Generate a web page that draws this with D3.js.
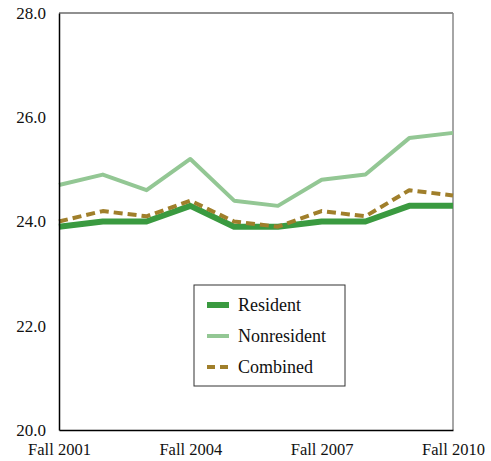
<!DOCTYPE html>
<html>
<head>
<meta charset="utf-8">
<script src="https://cdn.jsdelivr.net/npm/d3@7"></script>
<style>
body { margin: 0; background: #fff; }
text { font-family: "Liberation Serif", "DejaVu Serif", serif; }
</style>
</head>
<body>
<svg width="491" height="461"></svg>
<script>
var terms = ["Fall 2001","Fall 2002","Fall 2003","Fall 2004","Fall 2005","Fall 2006","Fall 2007","Fall 2008","Fall 2009","Fall 2010"];
var tickTerms = ["Fall 2001","Fall 2004","Fall 2007","Fall 2010"];
var yTicks = [20, 22, 24, 26, 28];
var resident = [23.9, 24.0, 24.0, 24.3, 23.9, 23.9, 24.0, 24.0, 24.3, 24.3];
var nonresident = [24.7, 24.9, 24.6, 25.2, 24.4, 24.3, 24.8, 24.9, 25.6, 25.7];
var combined = [24.0, 24.2, 24.1, 24.4, 24.0, 23.9, 24.2, 24.1, 24.6, 24.5];

var series = [
    {name: "Resident", values: resident, color: "#3a9a40", width: 6, dash: null},
    {name: "Nonresident", values: nonresident, color: "#93c794", width: 4, dash: null},
    {name: "Combined", values: combined, color: "#a07f2b", width: 4, dash: "9,5"}
];

var svg = d3.select("svg"),
    plotLeft = 59, plotRight = 453, plotTop = 13, plotBottom = 430;

var xScale = d3.scalePoint().domain(terms).range([plotLeft, plotRight]),
    yScale = d3.scaleLinear().domain([20, 28]).range([plotBottom, plotTop]);

// frame
svg.append("line").attr("x1", plotLeft).attr("x2", plotRight).attr("y1", plotTop).attr("y2", plotTop)
    .attr("stroke", "#222").attr("stroke-width", 1.2);
svg.append("line").attr("x1", plotRight).attr("x2", plotRight).attr("y1", plotTop).attr("y2", plotBottom)
    .attr("stroke", "#888").attr("stroke-width", 1.5);

var line = d3.line()
    .x(function(d, i){ return xScale(terms[i]); })
    .y(function(d){ return yScale(d); });

svg.selectAll(".series").data(series).enter().append("path")
    .attr("class", "series")
    .attr("d", function(s){ return line(s.values); })
    .attr("fill", "none")
    .attr("stroke", function(s){ return s.color; })
    .attr("stroke-width", function(s){ return s.width; })
    .attr("stroke-dasharray", function(s){ return s.dash; })
    .attr("stroke-linejoin", "round");

// y axis
var yAxis = svg.append("g").attr("transform", "translate(" + plotLeft + ",0)")
    .call(d3.axisLeft(yScale).tickValues(yTicks).tickSize(0).tickPadding(13)
        .tickFormat(d3.format(".1f")));
yAxis.select(".domain").attr("stroke", "#000").attr("stroke-width", 1.5);
yAxis.selectAll("text").attr("font-size", "17px").attr("fill", "#111")
    .attr("font-family", "Liberation Serif");

// x axis
var xAxis = svg.append("g").attr("transform", "translate(0," + plotBottom + ")")
    .call(d3.axisBottom(xScale).tickValues(tickTerms).tickSize(0).tickPadding(13));
xAxis.select(".domain").attr("stroke", "#000").attr("stroke-width", 1.5);
xAxis.selectAll("text").attr("font-size", "16.5px").attr("fill", "#111")
    .attr("font-family", "Liberation Serif");

// legend
var lg = svg.append("g").attr("transform", "translate(194,285)");
lg.append("rect").attr("width", 151).attr("height", 101)
    .attr("fill", "#fff").attr("stroke", "#333").attr("stroke-width", 1);
var item = lg.selectAll(".item").data(series).enter().append("g")
    .attr("class", "item")
    .attr("transform", function(d, i){ return "translate(13," + (20 + i * 31) + ")"; });
item.append("line").attr("x1", 0).attr("x2", 22).attr("y1", 0).attr("y2", 0)
    .attr("stroke", function(s){ return s.color; })
    .attr("stroke-width", function(s){ return s.width; })
    .attr("stroke-dasharray", function(s){ return s.dash ? "8,5" : null; });
item.append("text").attr("x", 31).attr("y", 6).attr("font-size", "18px").attr("fill", "#111")
    .text(function(s){ return s.name; });
</script>
</body>
</html>
